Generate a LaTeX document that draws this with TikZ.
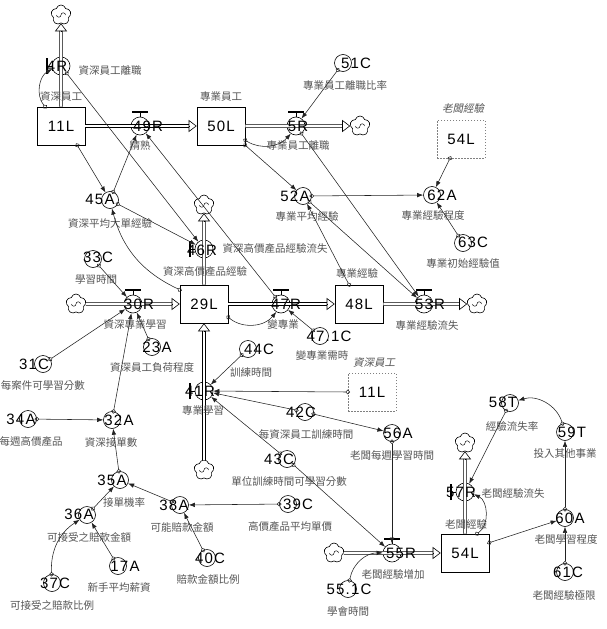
\documentclass[tikz,border=0pt]{standalone}
\usepackage{fontspec}
\setmainfont{Liberation Sans}
\newfontfamily\cjkf{Noto Sans CJK TC}
\newfontfamily\cjkit[FakeSlant=0.2]{Noto Sans CJK TC}
\newfontfamily\numfont[LetterSpace=8]{Liberation Sans}
\usetikzlibrary{arrows.meta,shapes.symbols,calc}
\definecolor{labgray}{HTML}{555555}
\definecolor{lnk}{HTML}{222222}
\tikzset{
 stock/.style={draw, line width=0.6pt, minimum width=48pt, minimum height=38pt, inner sep=0, font=\numfont\fontsize{15}{15}\selectfont},
 shstock/.style={stock, draw=gray, dash pattern=on 1.5pt off 1.5pt},
 ratec/.style={draw, circle, line width=0.6pt, minimum size=18pt, inner sep=0},
 auxc/.style={draw, circle, line width=0.6pt, minimum size=17pt, inner sep=0},
 num/.style={font=\numfont\fontsize{15}{15}\selectfont, inner sep=0},
 lab/.style={font=\cjkf\fontsize{10.5}{12}\selectfont, text=labgray, inner sep=0},
 ilab/.style={font=\cjkit\fontsize{10.5}{12}\selectfont, text=labgray, inner sep=0},
 cloudn/.style={cloud, draw, cloud puffs=5, cloud puff arc=150, aspect=1, minimum width=20pt, minimum height=20pt, inner sep=0, line width=0.6pt},
 pipe/.style={double, double distance=2.6pt, line width=0.6pt},
 ftip/.style={line width=0.6pt, -{Triangle[open, length=8pt, width=12pt]}},
 link/.style={draw=lnk, line width=0.55pt, {Circle[open,length=4.5pt,width=4.5pt]}-{Latex[length=6pt,width=4.5pt]}, shorten <=-2.25pt},
 valvebar/.style={line width=2pt},
 valvest/.style={line width=0.6pt},
}
\newcommand\flowpipe[2]{\draw[pipe, shorten >=7.5pt] (#1) -- (#2); \draw[ftip] ($(#2)!8pt!(#1)$) -- (#2);}
\newcommand\valveh[1]{\draw[valvest] ([yshift=4.5pt]#1.north) -- (#1.north); \draw[valvebar] ([yshift=5pt,xshift=-8pt]#1.north) -- ([yshift=5pt,xshift=8pt]#1.north);}
\newcommand\valvev[1]{\draw[valvest] ([xshift=-4.5pt]#1.west) -- (#1.west); \draw[valvebar] ([xshift=-5pt,yshift=-8pt]#1.west) -- ([xshift=-5pt,yshift=8pt]#1.west);}
\newcommand\swirl[1]{\draw[line width=0.45pt] ([shift={(-4.5pt,0pt)}]#1.center) arc[start angle=180, end angle=360, radius=2.25pt] ([shift={(4.5pt,0pt)}]#1.center) arc[start angle=0, end angle=180, radius=2.25pt];}
\begin{document}
\begin{tikzpicture}[x={(1pt,0)}, y={(0,-1pt)}]
\useasboundingbox (0,0) rectangle (607,629);
% clouds
\node[cloudn] (c1) at (61,15) {};
\node[cloudn] (c2) at (360,126) {};
\node[cloudn] (c3) at (76,304) {};
\node[cloudn] (c4) at (204,205) {};
\node[cloudn] (c5) at (477,304) {};
\node[cloudn] (c6) at (204,470) {};
\node[cloudn] (c7) at (334,553) {};
\node[cloudn] (c8) at (465,443) {};
\foreach \c in {c1,c2,c3,c4,c5,c6,c7,c8} {\swirl{\c}}
% stocks
\node[stock] (n11L) at (61,126) {11L};
\node[stock] (n50L) at (221,126) {50L};
\node[stock] (n29L) at (204,304) {29L};
\node[stock] (n48L) at (359,304) {48L};
\node[stock] (n54L) at (465,553) {54L};
\node[shstock] (s54L) at (461,139) {54L};
\node[shstock] (s11L) at (372,392) {11L};
% rate circles
\node[ratec] (r4R) at (61,66) {};
\node[ratec] (r49R) at (140,126) {};
\node[ratec] (r5R) at (296,126) {};
\node[ratec] (r46R) at (204,249) {};
\node[ratec] (r30R) at (133,304) {};
\node[ratec] (r47R) at (281,304) {};
\node[ratec] (r53R) at (424,304) {};
\node[ratec] (r41R) at (204,391) {};
\node[ratec] (r55R) at (392,553) {};
\node[ratec] (r57R) at (465,492) {};
% pipes
\flowpipe{n11L.north}{c1.south}
\flowpipe{n11L.east}{n50L.west}
\flowpipe{n50L.east}{c2.west}
\flowpipe{c3.east}{n29L.west}
\flowpipe{n29L.north}{c4.south}
\flowpipe{n29L.east}{n48L.west}
\flowpipe{n48L.east}{c5.west}
\flowpipe{c6.north}{n29L.south}
\flowpipe{c7.east}{n54L.west}
\flowpipe{n54L.north}{c8.south}
% valves
\valvev{r4R}
\valveh{r49R}
\valveh{r5R}
\valvev{r46R}
\valveh{r30R}
\valveh{r47R}
\valveh{r53R}
\valvev{r41R}
\valveh{r55R}
\valvev{r57R}
% rate texts
\node[num] (t4R) at (57,66) {4R};
\node[num] (t49R) at (148,126) {49R};
\node[num] (t5R) at (298,126) {5R};
\node[num] (t46R) at (202,250) {46R};
\node[num] (t30R) at (139,304) {30R};
\node[num] (t47R) at (286,304) {47R};
\node[num] (t53R) at (430,304) {53R};
\node[num] (t41R) at (200,391) {41R};
\node[num] (t55R) at (401,553) {55R};
\node[num] (t57R) at (461,492) {57R};
% auxiliaries
\node[auxc] (a51C) at (343,63) {};   \node[num] (x51C) at (356,63) {51C};
\node[auxc] (a45A) at (110,200) {};  \node[num] (x45A) at (100,199) {45A};
\node[auxc] (a52A) at (303,196) {};  \node[num] (x52A) at (295,196) {52A};
\node[auxc] (a62A) at (432,195) {};  \node[num] (x62A) at (442,195) {62A};
\node[auxc] (a63C) at (463,243) {};  \node[num] (x63C) at (473,242) {63C};
\node[auxc] (a33C) at (93,259) {};   \node[num] (x33C) at (98,257) {33C};
\node[auxc] (a23A) at (152,347) {};  \node[num] (x23A) at (157,347) {23A};
\node[auxc] (a31C) at (43,364) {};   \node[num] (x31C) at (34,364) {31C};
\node[auxc] (a44C) at (248,349) {};  \node[num] (x44C) at (259,349) {44C};
\node[auxc] (a42C) at (305,412) {};  \node[num] (x42C) at (301,412) {42C};
\node[auxc] (a43C) at (287,459) {};  \node[num] (x43C) at (279,459) {43C};
\node[auxc] (a471C) at (320,336) {}; \node[num] (x471C) at (329,336) {47.1C};
\node[auxc] (a34A) at (28,419) {};   \node[num] (x34A) at (21,419) {34A};
\node[auxc] (a32A) at (112,420) {};  \node[num] (x32A) at (119,420) {32A};
\node[auxc] (a35A) at (120,480) {};  \node[num] (x35A) at (112,480) {35A};
\node[auxc] (a36A) at (87,515) {};   \node[num] (x36A) at (79,514) {36A};
\node[auxc] (a38A) at (180,505) {};  \node[num] (x38A) at (174,505) {38A};
\node[auxc] (a39C) at (288,504) {};  \node[num] (x39C) at (298,504) {39C};
\node[auxc] (a40C) at (207,558) {};  \node[num] (x40C) at (210,558) {40C};
\node[auxc] (a17A) at (118,566) {};  \node[num] (x17A) at (125,566) {17A};
\node[auxc] (a37C) at (52,583) {};   \node[num] (x37C) at (55,583) {37C};
\node[auxc] (a56A) at (392,433) {};  \node[num] (x56A) at (398,433) {56A};
\node[auxc] (a551C) at (348,589) {}; \node[num] (x551C) at (349,589) {55.1C};
\node[auxc] (a58T) at (510,403) {};  \node[num] (x58T) at (503,402) {58T};
\node[auxc] (a59T) at (565,432) {};  \node[num] (x59T) at (572,432) {59T};
\node[auxc] (a60A) at (565,518) {};  \node[num] (x60A) at (570,518) {60A};
\node[auxc] (a61C) at (565,572) {};  \node[num] (x61C) at (568,572) {61C};
% labels
\node[lab] (l1) at (110,71) {資深員工離職};
\node[lab] (l2) at (61,97) {資深員工};
\node[lab] (l3) at (140,146) {精熟};
\node[lab] (l4) at (221,97) {專業員工};
\node[lab] (l5) at (298,146) {專業員工離職};
\node[lab] (l6) at (345,85) {專業員工離職比率};
\node[ilab] (l7) at (463,108) {老闆經驗};
\node[lab] (l8) at (307,216) {專業平均經驗};
\node[lab] (l9) at (433,215) {專業經驗程度};
\node[lab] (l10) at (463,263) {專業初始經驗值};
\node[lab] (l11) at (110,223) {資深平均大單經驗};
\node[lab] (l12) at (275,249) {資深高價產品經驗流失};
\node[lab] (l13) at (205,272) {資深高價產品經驗};
\node[lab] (l14) at (96,280) {學習時間};
\node[lab] (l15) at (135,325) {資深專業學習};
\node[lab] (l16) at (152,368) {資深員工負荷程度};
\node[lab] (l17) at (43,385) {每案件可學習分數};
\node[lab] (l18) at (251,373) {訓練時間};
\node[lab] (l19) at (203,411) {專業學習};
\node[lab] (l20) at (283,325) {變專業};
\node[lab] (l21) at (357,273) {專業經驗};
\node[lab] (l22) at (427,325) {專業經驗流失};
\node[lab] (l23) at (322,356) {變專業需時};
\node[ilab] (l24) at (374,362) {資深員工};
\node[lab] (l25) at (306,434) {每資深員工訓練時間};
\node[lab] (l26) at (289,481) {單位訓練時間可學習分數};
\node[lab] (l27) at (392,455) {老闆每週學習時間};
\node[lab] (l28) at (31,442) {每週高價產品};
\node[lab] (l29) at (111,442) {資深接單數};
\node[lab] (l30) at (124,502) {接單機率};
\node[lab] (l31) at (89,537) {可接受之賠款金額};
\node[lab] (l32) at (182,527) {可能賠款金額};
\node[lab] (l33) at (290,527) {高價產品平均單價};
\node[lab] (l34) at (208,579) {賠款金額比例};
\node[lab] (l35) at (119,587) {新手平均薪資};
\node[lab] (l36) at (52,605) {可接受之賠款比例};
\node[lab] (l37) at (393,574) {老闆經驗增加};
\node[lab] (l38) at (348,611) {學會時間};
\node[lab] (l39) at (466,524) {老闆經驗};
\node[lab] (l40) at (513,493) {老闆經驗流失};
\node[lab] (l41) at (512,426) {經驗流失率};
\node[lab] (l42) at (565,454) {投入其他事業};
\node[lab] (l43) at (566,539) {老闆學習程度};
\node[lab] (l44) at (564,595) {老闆經驗極限};
% links
\draw[link] ([xshift=-16pt]n11L.north) to[bend left=50] (r4R);
\draw[link] (r4R) -- (r46R);
\draw[link] ([xshift=-8pt]n11L.south east) -- (a45A);
\draw[link] (a45A) -- (r49R);
\draw[link] (a45A) -- (r46R);
\draw[link] ([yshift=-5pt]n29L.north west) to[bend left=25] (a45A);
\draw[link] (r47R) -- (r49R);
\draw[link] (a51C) -- (r5R);
\draw[link] ([yshift=5pt]n50L.south east) to[bend right=40] (r5R);
\draw[link] (n50L.south east) -- (a52A);
\draw[link] (r5R) -- (r53R);
\draw[link] (a52A) -- (a62A);
\draw[link] (a52A) -- (r53R);
\draw[link] ([xshift=-10pt]n48L.north) -- (a52A);
\draw[link] ([xshift=-11pt]s54L.south) -- (a62A);
\draw[link] (a63C) -- (a62A);
\draw[link] (a33C) -- (r30R);
\draw[link] (a31C) -- (r30R);
\draw[link] (a23A) -- (r30R);
\draw[link] (a32A) -- (r30R);
\draw[link] ([yshift=6pt]n29L.south east) to[bend right=45] (r47R);
\draw[link] (a471C) -- (r47R);
\draw[link] (a44C) -- (r41R);
\draw[link] (s11L.west) -- (r41R);
\draw[link] (a42C) -- (r41R);
\draw[link] (a43C) -- (r41R);
\draw[link] (a42C) -- (a56A);
\draw[link] (a43C) -- (r55R);
\draw[link] (a56A) -- (r55R);
\draw[link] (a551C) to[bend left=40] (r55R);
\draw[link] (a34A) -- (a32A);
\draw[link] (a35A) -- (a32A);
\draw[link] (a36A) -- (a35A);
\draw[link] (a38A) -- (a35A);
\draw[link] (a39C) -- (a38A);
\draw[link] (a40C) -- (a38A);
\draw[link] (a17A) -- (a36A);
\draw[link] (a37C) to[bend left=30] (a36A);
\draw[link] ([xshift=12pt]n54L.north) to[bend right=60] (r57R);
\draw[link] (a58T) -- (r57R);
\draw[link] ([yshift=-9pt]n54L.north east) -- (a60A);
\draw[link] (a60A) -- (a59T);
\draw[link] (a61C) -- (a60A);
\draw[link] (a59T) to[bend right=45] (a58T);
\end{tikzpicture}
\end{document}
